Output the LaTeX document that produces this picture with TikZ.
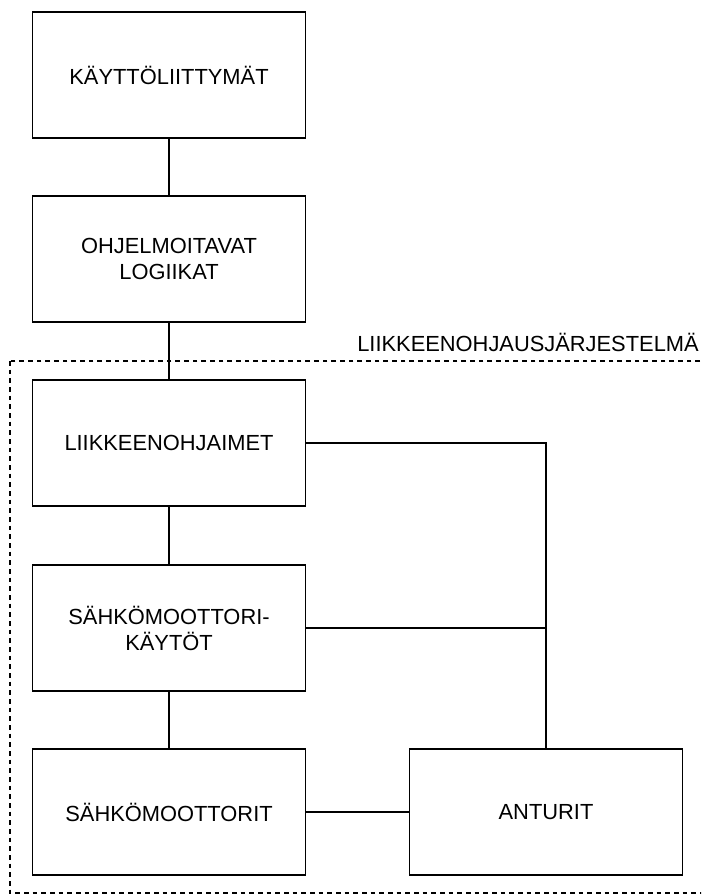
\documentclass[tikz,border=0pt]{standalone}
\usepackage{fontspec}
\setmainfont{Liberation Sans}
\usepackage{tikz}
\usetikzlibrary{positioning}

\begin{document}
\begin{tikzpicture}[
  x=0.75pt, y=-0.75pt,
  block/.style={rectangle, draw, line width=0.9pt, fill=white, minimum width=204.75pt, minimum height=94.5pt, inner sep=0pt, align=center, font=\fontsize{16.4}{19.5}\selectfont},
  link/.style={line width=0.9pt},
  frame/.style={line width=0.9pt, dash pattern=on 3.5pt off 3pt},
]
  \useasboundingbox (0,0) rectangle (701,894);

  % system frame (open on the right)
  \begin{scope}
    \clip (0,0) rectangle (701,894);
    \draw[frame] (10,361) rectangle (720,893);
  \end{scope}
  \node[anchor=base east, inner sep=0pt, font=\fontsize{16.4}{19.5}\selectfont] (sysname) at (699,351) {LIIKKEENOHJAUSJÄRJESTELMÄ};

  % upper levels
  \node[block] (ui) at (169,75) {KÄYTTÖLIITTYMÄT};
  \node[block] (plc) at (169,259) {OHJELMOITAVAT\\LOGIIKAT};

  % motion control system
  \node[block] (mc) at (169,443) {LIIKKEENOHJAIMET};
  \node[block] (drv) at (169,628) {SÄHKÖMOOTTORI-\\KÄYTÖT};
  \node[block] (mot) at (169,812) {SÄHKÖMOOTTORIT};
  \node[block] (sens) at (546,812) {ANTURIT};
  \coordinate (tap) at (drv.east -| sens.north);

  \draw[link] (ui) -- (plc);
  \draw[link] (plc) -- (mc);
  \draw[link] (mc) -- (drv);
  \draw[link] (drv) -- (mot);
  \draw[link] (mot) -- (sens);
  \draw[link] (mc) -| (sens);
  \draw[link] (drv) -- (tap);
\end{tikzpicture}
\end{document}
